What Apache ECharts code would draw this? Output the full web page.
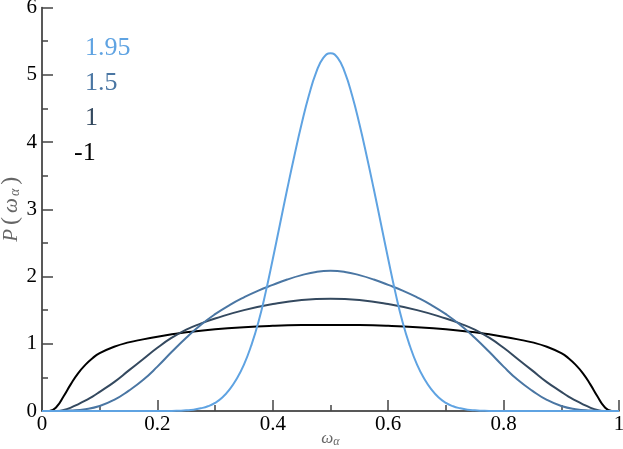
<!DOCTYPE html>
<html>
<head>
<meta charset="utf-8">
<script src="https://cdn.jsdelivr.net/npm/echarts@6/dist/echarts.min.js"></script>
<style>
html,body{margin:0;padding:0;background:#fff;}
#c{width:623px;height:449px;}
</style>
</head>
<body>
<div id="c"></div>
<script>
var seriesNames = ['-1', '1', '1.5', '1.95'];

// series "-1"
var xM1 = [0,0.0125,0.025,0.0375,0.05,0.0625,0.075,0.0875,0.1,0.125,0.15,0.175,0.2,0.225,0.25,0.3,0.35,0.4,0.45,0.5,
  0.55,0.6,0.65,0.7,0.75,0.775,0.8,0.825,0.85,0.875,0.9,0.9125,0.925,0.9375,0.95,0.9625,0.975,0.9875,1];
var yM1 = [0,0,0.06,0.22,0.40,0.56,0.685,0.785,0.86,0.955,1.02,1.065,1.105,1.14,1.17,1.215,1.246,1.266,1.277,1.28,
  1.277,1.266,1.246,1.215,1.17,1.14,1.105,1.065,1.02,0.955,0.86,0.785,0.685,0.56,0.40,0.22,0.06,0,0];

// series "1"
var x1 = [0,0.025,0.0375,0.05,0.0625,0.075,0.0875,0.1,0.125,0.15,0.175,0.2,0.225,0.25,0.275,0.3,0.35,0.4,0.45,0.5,
  0.55,0.6,0.65,0.7,0.725,0.75,0.775,0.8,0.825,0.85,0.875,0.9,0.9125,0.925,0.9375,0.95,0.9625,0.975,1];
var y1 = [0,0,0.015,0.05,0.10,0.155,0.215,0.285,0.43,0.60,0.77,0.94,1.09,1.21,1.30,1.375,1.50,1.59,1.65,1.67,
  1.65,1.59,1.50,1.375,1.30,1.21,1.09,0.94,0.77,0.60,0.43,0.285,0.215,0.155,0.10,0.05,0.015,0,0];

// series "1.5"
var x15 = [0,0.025,0.05,0.075,0.1,0.125,0.15,0.175,0.2,0.225,0.25,0.275,0.3,0.325,0.35,0.375,0.4,0.425,0.45,0.475,0.5,
  0.525,0.55,0.575,0.6,0.625,0.65,0.675,0.7,0.725,0.75,0.775,0.8,0.825,0.85,0.875,0.9,0.925,0.95,0.975,1];
var y15 = [0,0,0.008,0.028,0.075,0.165,0.30,0.46,0.66,0.88,1.09,1.28,1.44,1.575,1.69,1.79,1.875,1.955,2.02,2.068,2.085,
  2.068,2.02,1.955,1.875,1.79,1.69,1.575,1.44,1.28,1.09,0.88,0.66,0.46,0.30,0.165,0.075,0.028,0.008,0,0];

// series "1.95"
var x195 = [0,0.2,0.225,0.2375,0.25,0.2625,0.275,0.2875,0.3,0.3125,0.325,0.3375,0.35,0.3625,0.375,0.3875,0.4,0.4125,0.425,0.4375,0.45,0.4625,0.475,0.4875,0.5,
  0.5125,0.525,0.5375,0.55,0.5625,0.575,0.5875,0.6,0.6125,0.625,0.6375,0.65,0.6625,0.675,0.6875,0.7,0.7125,0.725,0.7375,0.75,0.7625,0.775,0.8,1];
var y195 = [0,0,0,0.004,0.01,0.02,0.04,0.07,0.12,0.20,0.32,0.48,0.69,0.97,1.32,1.76,2.26,2.78,3.30,3.80,4.27,4.69,5.03,5.25,5.32,
  5.25,5.03,4.69,4.27,3.80,3.30,2.78,2.26,1.76,1.32,0.97,0.69,0.48,0.32,0.20,0.12,0.07,0.04,0.02,0.01,0.004,0,0,0];

var xTicks = ['0','0.2','0.4','0.6','0.8','1'];
var yTicks = ['0','1','2','3','4','5','6'];

var colors = ['#000000', '#34495f', '#4a76a3', '#5fa3e2'];

function pairs(xs, ys){ return xs.map(function(x,i){ return [x, ys[i]]; }); }
var allX = [xM1, x1, x15, x195];
var allY = [yM1, y1, y15, y195];

var serif = '"Liberation Serif", "DejaVu Serif", serif';

var chart = echarts.init(document.getElementById('c'));
chart.setOption({
  animation: false,
  backgroundColor: '#fff',
  grid: { left: 42, right: 4, top: 7.5, bottom: 38, containLabel: false, outerBoundsMode: 'none' },
  xAxis: {
    type: 'value', min: 0, max: 1, interval: 0.2,
    name: '{i|ω}{s|α}',
    nameLocation: 'middle', nameGap: 18, nameMoveOverlap: false,
    nameTextStyle: { rich: {
      i: { fontFamily: serif, fontStyle: 'italic', fontSize: 17, color: '#666' },
      s: { fontFamily: serif, fontStyle: 'italic', fontSize: 12, color: '#666', padding: [7,0,0,0] }
    }},
    axisLine: { show: true, lineStyle: { color: '#222', width: 1.5 } },
    axisTick: { show: true, inside: true, length: 11, lineStyle: { color: '#444', width: 1.5 } },
    minorTick: { show: true, splitNumber: 2, length: 6, lineStyle: { color: '#444', width: 1.5 } },
    splitLine: { show: false },
    axisLabel: { fontFamily: serif, fontSize: 21, color: '#000', margin: 3,
      formatter: function(v){ return xTicks[Math.round(v/0.2)]; } }
  },
  yAxis: {
    type: 'value', min: 0, max: 6, interval: 1,
    name: '{i|P}{n|(}{i|ω}{s|α}{n|)}',
    nameLocation: 'middle', nameGap: 19, nameRotate: 90, nameMoveOverlap: false,
    nameTextStyle: { rich: {
      i: { fontFamily: serif, fontStyle: 'italic', fontSize: 21, color: '#666', padding: [0,2,0,2] },
      n: { fontFamily: serif, fontSize: 24, color: '#666', padding: [0,2,0,2] },
      s: { fontFamily: serif, fontStyle: 'italic', fontSize: 14, color: '#666', padding: [9,2,0,0] }
    }},
    axisLine: { show: true, lineStyle: { color: '#222', width: 1.5 } },
    axisTick: { show: true, inside: true, length: 11, lineStyle: { color: '#444', width: 1.5 } },
    minorTick: { show: true, splitNumber: 2, length: 6, lineStyle: { color: '#444', width: 1.5 } },
    splitLine: { show: false },
    axisLabel: { fontFamily: serif, fontSize: 21, color: '#000', margin: 5,
      formatter: function(v){ return yTicks[Math.round(v)]; } }
  },
  graphic: seriesNames.slice().reverse().map(function(n, i){
    var isNeg = n.charAt(0) === '-';
    return {
      type: 'text', left: isNeg ? 74 : 85, top: 35 + i * 35, z: 10,
      style: { text: n, font: '26px ' + serif, fill: colors[3 - i] }
    };
  }),
  series: allY.map(function(v, i){
    return {
      type: 'line', name: seriesNames[i], data: pairs(allX[i], v),
      showSymbol: false, smooth: 0.5,
      lineStyle: { color: colors[i], width: 2 },
      itemStyle: { color: colors[i] },
      z: 2 + i
    };
  })
});
</script>
</body>
</html>
